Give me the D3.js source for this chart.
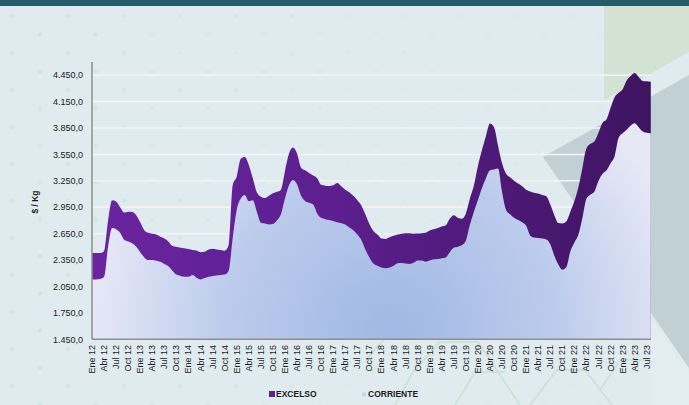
<!DOCTYPE html>
<meta charset="utf-8">
<script src="https://d3js.org/d3.v7.min.js"></script>
<style>
  body { margin: 0; background: #e0ebef; }
  svg { display: block; font-family: "Liberation Sans", Arial, sans-serif; }
</style>

<div id="my_dataviz"></div>

<script>

// quarterly tick labels on the category axis
var tickLabels = ["Ene 12","Abr 12","Jul 12","Oct 12","Ene 13","Abr 13","Jul 13","Oct 13",
  "Ene 14","Abr 14","Jul 14","Oct 14","Ene 15","Abr 15","Jul 15","Oct 15",
  "Ene 16","Abr 16","Jul 16","Oct 16","Ene 17","Abr 17","Jul 17","Oct 17",
  "Ene 18","Abr 18","Jul 18","Oct 18","Ene 19","Abr 19","Jul 19","Oct 19",
  "Ene 20","Abr 20","Jul 20","Oct 20","Ene 21","Abr 21","Jul 21","Oct 21",
  "Ene 22","Abr 22","Jul 22","Oct 22","Ene 23","Abr 23","Jul 23"]

// monthly prices, $ / Kg (Ene 12 .. Ago 23)
var excelso = [2430,2430,2430,2450,2800,3030,3015,2950,2890,2900,2895,2860,
  2780,2690,2660,2650,2640,2615,2595,2560,2510,2500,2490,2485,
  2475,2465,2460,2440,2445,2470,2480,2470,2465,2455,2520,3200,
  3300,3500,3520,3430,3280,3120,3070,3055,3080,3110,3125,3150,
  3360,3560,3630,3560,3400,3370,3340,3310,3280,3205,3195,3192,
  3200,3225,3190,3150,3120,3080,3030,2970,2870,2760,2680,2640,
  2595,2590,2610,2625,2640,2650,2655,2655,2650,2652,2655,2660,
  2685,2700,2715,2730,2745,2820,2860,2830,2820,2880,3050,3200,
  3420,3600,3760,3900,3860,3650,3450,3330,3290,3250,3220,3190,
  3150,3130,3115,3105,3090,3075,2980,2860,2770,2765,2790,2900,
  3020,3180,3400,3620,3670,3700,3800,3910,3950,4080,4200,4250,
  4290,4390,4440,4475,4430,4385,4380,4375]

var corriente = [2130,2130,2135,2160,2500,2715,2700,2660,2580,2560,2540,2500,
  2440,2380,2350,2350,2343,2330,2305,2280,2230,2185,2170,2160,
  2160,2180,2150,2130,2145,2160,2170,2175,2180,2185,2230,2600,
  2920,3050,3090,3020,3030,2900,2775,2765,2755,2760,2800,2870,
  3050,3200,3260,3210,3080,3020,3000,2980,2880,2830,2815,2806,
  2795,2780,2768,2755,2720,2690,2640,2578,2470,2380,2310,2285,
  2265,2257,2265,2285,2315,2318,2310,2306,2320,2345,2345,2332,
  2345,2358,2362,2370,2380,2440,2490,2500,2520,2570,2750,2900,
  3033,3170,3280,3370,3380,3390,3120,2920,2870,2830,2805,2780,
  2740,2630,2605,2600,2595,2585,2530,2400,2300,2240,2270,2450,
  2550,2640,2830,3050,3095,3130,3250,3330,3370,3450,3530,3740,
  3790,3830,3880,3905,3860,3810,3795,3790]

var yTicks = [1450,1750,2050,2350,2650,2950,3250,3550,3850,4150,4450]

var width = 689
    height = 405

var svg = d3.select("#my_dataviz")
  .append("svg")
    .attr("width", width)
    .attr("height", height)

var defs = svg.append("defs")

// purple band gets darker to the right
var gPurple = defs.append("linearGradient")
  .attr("id", "gPurple")
  .attr("gradientUnits", "userSpaceOnUse")
  .attr("x1", 92).attr("y1", 0).attr("x2", 651).attr("y2", 0)
gPurple.append("stop").attr("offset", "0%").attr("stop-color", "#6a24a0")
gPurple.append("stop").attr("offset", "45%").attr("stop-color", "#5c1f8e")
gPurple.append("stop").attr("offset", "100%").attr("stop-color", "#3e1460")

// soft blue glow for CORRIENTE
var gBlue = defs.append("radialGradient")
  .attr("id", "gBlue")
  .attr("gradientUnits", "userSpaceOnUse")
  .attr("cx", 390).attr("cy", 330).attr("r", 300)
gBlue.append("stop").attr("offset", "0%").attr("stop-color", "#a0b8e4")
gBlue.append("stop").attr("offset", "55%").attr("stop-color", "#bccbec")
gBlue.append("stop").attr("offset", "100%").attr("stop-color", "#e6e8f6")

// ---- background decoration ----
svg.append("rect").attr("width", width).attr("height", height).attr("fill", "#e0ebef")

// faint dot pattern
for (var k = 0; k < 22; k++) {
  for (var j = 0; j < 11; j++) {
    var dx = 12 + j * 56 + (k % 2 ? 28 : 0)
    var dy = 16 + k * 18.5
    if (dx > 600) continue
    svg.append("circle")
      .attr("cx", dx).attr("cy", dy).attr("r", 2.2)
      .attr("fill", "#cfe3dc")
      .attr("opacity", Math.max(0.15, 0.8 - dx / 700))
  }
}

svg.append("polygon")
  .attr("points", "604,6 689,6 689,52 604,100")
  .attr("fill", "#d3e3d3")

svg.append("polygon")
  .attr("points", "543,157 689,75 689,368")
  .attr("fill", "#c1d0d4")

svg.append("polygon")
  .attr("points", "651,318 689,372 689,405 651,405")
  .attr("fill", "#e3edf1")

// circuit-like hexagon strokes at the bottom
var hexLines = [
  [[413,372],[440,342],[478,342],[520,405]],
  [[395,405],[413,372]],
  [[455,405],[475,372],[505,372]],
  [[530,405],[557,370],[585,370],[612,405]],
  [[600,390],[620,360],[650,360]],
  [[366,360],[392,330]]
]
svg.selectAll("hexLine")
  .data(hexLines)
  .enter()
  .append("path")
    .attr("d", d3.line())
    .attr("fill", "none")
    .attr("stroke", "#c4e2cf")
    .attr("stroke-width", 2)
    .attr("opacity", 0.8)

svg.append("rect").attr("width", width).attr("height", 6).attr("fill", "#245c6a")

// ---- chart ----
var x = d3.scaleLinear()
  .domain([0, excelso.length - 1])
  .range([92, 650.8])

var y = d3.scaleLinear()
  .domain([1450, 4600])
  .range([339.3, 62])

var fmt = d3.formatLocale({decimal: ",", thousands: ".", grouping: [3], currency: ["$", ""]}).format(",.1f")

// gridlines
svg.selectAll("grid")
  .data(yTicks.slice(1))
  .enter()
  .append("line")
    .attr("x1", 92).attr("x2", 651)
    .attr("y1", function(d){ return y(d) })
    .attr("y2", function(d){ return y(d) })
    .attr("stroke", "#f3f4f4")
    .attr("stroke-width", 1.5)

var areaE = d3.area()
  .x(function(d, i){ return x(i) })
  .y0(y(1450))
  .y1(function(d){ return y(d) })
  .curve(d3.curveMonotoneX)

svg.append("path")
  .datum(excelso)
  .attr("d", areaE)
  .attr("fill", "url(#gPurple)")

svg.append("path")
  .datum(corriente)
  .attr("d", areaE)
  .attr("fill", "url(#gBlue)")

// axes
svg.append("line")
  .attr("x1", 92).attr("x2", 92).attr("y1", 62).attr("y2", 339.3)
  .attr("stroke", "#8e8e8e").attr("stroke-width", 1.5)
svg.append("line")
  .attr("x1", 92).attr("x2", 651).attr("y1", 339.3).attr("y2", 339.3)
  .attr("stroke", "#8e8e8e").attr("stroke-width", 1.5)

// y tick labels
svg.selectAll("yLab")
  .data(yTicks)
  .enter()
  .append("text")
    .attr("x", 83)
    .attr("y", function(d){ return y(d) + 3.2 })
    .attr("text-anchor", "end")
    .style("font-size", "9px")
    .attr("fill", "#1a1a1a")
    .text(function(d){ return fmt(d) })

// x tick labels (every 3 months)
svg.selectAll("xLab")
  .data(tickLabels)
  .enter()
  .append("text")
    .attr("transform", function(d, i){ return "translate(" + (x(i * 3) + 3) + ",345) rotate(-90)" })
    .attr("text-anchor", "end")
    .style("font-size", "9px")
    .attr("fill", "#1a1a1a")
    .text(function(d){ return d })

// y axis title
svg.append("text")
  .attr("transform", "translate(38,202) rotate(-90)")
  .attr("text-anchor", "middle")
  .style("font-size", "8.5px")
  .style("font-weight", "bold")
  .attr("fill", "#1a1a1a")
  .text("$ / Kg")

// legend
svg.append("rect").attr("x", 269).attr("y", 391).attr("width", 6).attr("height", 6).attr("fill", "#5f208f")
svg.append("text").attr("x", 276).attr("y", 397)
  .style("font-size", "8.5px").style("font-weight", "bold").attr("fill", "#1a1a1a")
  .text("EXCELSO")
svg.append("rect").attr("x", 362).attr("y", 392.5).attr("width", 4).attr("height", 4).attr("fill", "#c7d2ee")
svg.append("text").attr("x", 368).attr("y", 397)
  .style("font-size", "8.5px").style("font-weight", "bold").attr("fill", "#1a1a1a")
  .text("CORRIENTE")

</script>
